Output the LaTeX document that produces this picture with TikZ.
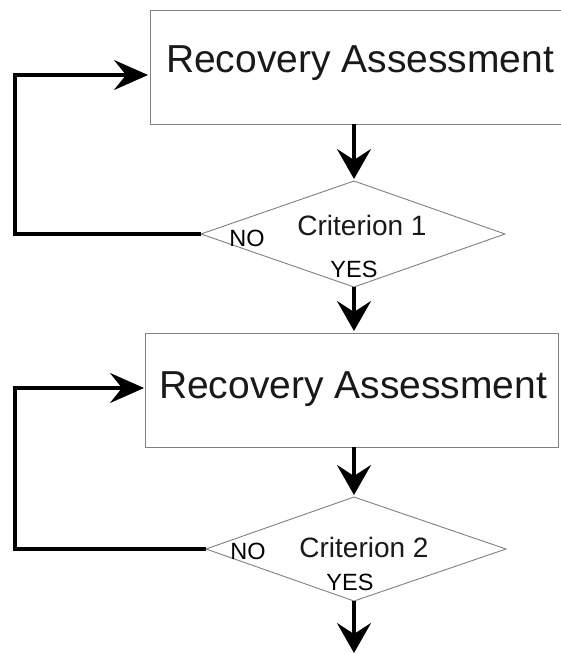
\documentclass[tikz,border=0pt]{standalone}
\usepackage{fontspec}
\setmainfont{Liberation Sans}
\usetikzlibrary{arrows.meta}
\begin{document}
\begin{tikzpicture}[x=1pt,y=-1pt,
  boxshape/.style={draw=black!50,line width=0.9pt,fill=none},
  flow/.style={line width=3.2pt,-{Stealth[length=30pt,width=34pt,inset=11pt]}},
  back/.style={line width=3.2pt,-{Stealth[length=34pt,width=30pt,inset=12pt]}},
  bigtxt/.style={anchor=base,inner sep=0pt,font=\fontsize{39}{40}\selectfont},
  crit/.style={anchor=base,inner sep=0pt,font=\fontsize{28}{30}\selectfont},
  small/.style={anchor=base,inner sep=0pt,font=\fontsize{23.5}{25}\selectfont}]
\useasboundingbox[fill=white] (0,0) rectangle (561,654);
% box 1
\node[boxshape,rectangle,minimum width=412pt,minimum height=114pt,inner sep=0pt,anchor=north west] (b1) at (150,10) {};
\node[bigtxt,text=black!90] (t1) at (360,72) {Recovery Assessment};
% diamond 1
\coordinate (d1t) at (354,181);
\coordinate (d1r) at (505,234);
\coordinate (d1b) at (354,287);
\coordinate (d1l) at (201,234);
\draw[boxshape] (d1t) -- (d1r) -- (d1b) -- (d1l) -- cycle;
\node[crit,text=black!90] (c1) at (362,235) {Criterion 1};
\node[small] (n1) at (247,246) {NO};
\node[small] (y1) at (354,277) {YES};
% box 2
\node[boxshape,rectangle,minimum width=413pt,minimum height=114pt,inner sep=0pt,anchor=north west] (b2) at (145,333) {};
\node[bigtxt,text=black!90] (t2) at (353,398) {Recovery Assessment};
% diamond 2
\coordinate (d2t) at (354,497);
\coordinate (d2r) at (506,549);
\coordinate (d2b) at (354,601);
\coordinate (d2l) at (206,549);
\draw[boxshape] (d2t) -- (d2r) -- (d2b) -- (d2l) -- cycle;
\node[crit,text=black!90] (c2) at (364,557) {Criterion 2};
\node[small] (n2) at (248,559) {NO};
\node[small] (y2) at (350,590) {YES};
% connectors
\coordinate (b1s) at (354,124);
\draw[flow] (b1s) -- (354,179);
\coordinate (b2n) at (354,331);
\draw[flow] (d1b) -- (b2n);
\coordinate (b2s) at (354,447);
\draw[flow] (b2s) -- (354,495);
\coordinate (endp) at (354,653);
\draw[flow] (d2b) -- (endp);
\coordinate (b1w) at (148,75);
\draw[back] (d1l) -- (15,234) -- (15,75) -- (b1w);
\coordinate (b2w) at (144,388);
\draw[back] (d2l) -- (15,549) -- (15,388) -- (b2w);
\end{tikzpicture}
\end{document}
